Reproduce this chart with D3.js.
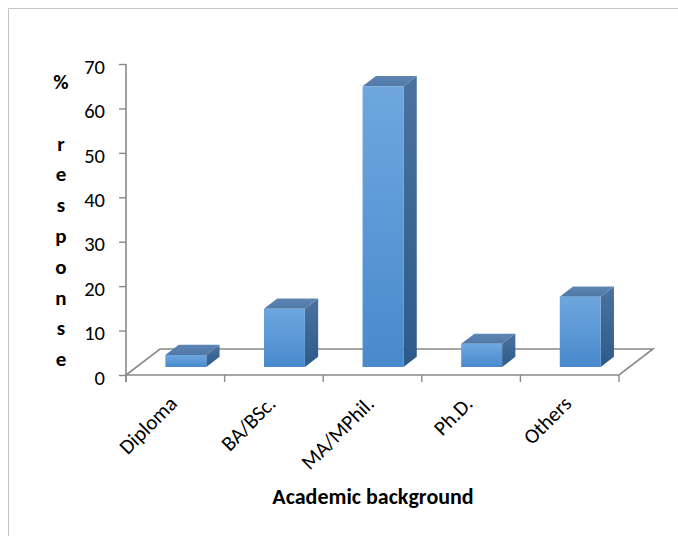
<!DOCTYPE html>
<html>
<head>
<meta charset="utf-8">
<script src="https://cdn.jsdelivr.net/npm/d3@7/dist/d3.min.js"></script>
<style>
  html, body { margin: 0; padding: 0; background: #fff; }
  svg { display: block; }
  text { font-family: Carlito, Calibri, Lato, "Open Sans", sans-serif; fill: #000; }
</style>
</head>
<body>
<svg id="chart" width="678" height="536"></svg>
<script>
// Survey respondents by academic background (% of responses)
const categories = ["Diploma", "BA/BSc.", "MA/MPhil.", "Ph.D.", "Others"];
const values = [2.7, 13.1, 63.2, 5.2, 15.8];
const yTicks = [0, 10, 20, 30, 40, 50, 60, 70];
const xTitle = "Academic background";
const yTitleLines = ["%", "", "r", "e", "s", "p", "o", "n", "s", "e"];

const svg = d3.select("#chart");

// chart-area frame (runs off the right and bottom edges)
svg.append("path")
  .attr("d", "M8.5,536 L8.5,8.5 L678,8.5")
  .attr("fill", "none")
  .attr("stroke", "#c4c4c4")
  .attr("stroke-width", 1);

// front plane scales
const x = d3.scaleBand().domain(categories).range([126, 619]).padding(0);
const xBar = d3.scaleBand().domain(categories).range([126, 619])
  .paddingInner(0.585).paddingOuter(0.2925);
const y = d3.scaleLinear().domain([0, 70]).range([375, 64]);

// oblique depth vector for the floor (full depth)
const depth = d3.scaleLinear().domain([0, 1]).range([0, 1]);
const DX = 34, DY = -26;
const barFront = 0.31, barBack = 0.70;
const P = (px, v, d) => [px + depth(d) * DX, y(v) + depth(d) * DY];

const axisColor = "#898989";

// floor outline
const floor = [P(126, 0, 0), P(619, 0, 0), P(619, 0, 1), P(126, 0, 1)];
svg.append("path")
  .attr("d", d3.line()(floor) + "Z")
  .attr("fill", "none")
  .attr("stroke", axisColor)
  .attr("stroke-width", 1.6);

// value axis
const yAxis = d3.axisLeft(y).tickValues(yTicks).tickSize(7).tickPadding(14)
  .tickFormat(d3.format("d"));
const gy = svg.append("g").attr("transform", "translate(126,0)").call(yAxis);
gy.select(".domain").remove();
gy.selectAll(".tick line").attr("stroke", axisColor).attr("stroke-width", 1.4);
gy.selectAll(".tick text")
  .attr("font-size", 20.5)
  .attr("font-family", "Carlito, Calibri, Lato, sans-serif")
  .attr("dy", "0.45em")
  .attr("fill", "#000");
svg.append("line")
  .attr("x1", 126).attr("x2", 126)
  .attr("y1", y(70)).attr("y2", y(0) + 7)
  .attr("stroke", axisColor).attr("stroke-width", 1.6);

// category ticks along the front edge of the floor
const boundaries = categories.map(c => x(c)).concat([x.range()[1]]);
svg.append("g").selectAll("line").data(boundaries).join("line")
  .attr("x1", d => d).attr("x2", d => d)
  .attr("y1", y(0)).attr("y2", y(0) + 7)
  .attr("stroke", axisColor).attr("stroke-width", 1.4);

// gradients for bar faces
const defs = svg.append("defs");
function vGrad(id, c0, c1) {
  const g = defs.append("linearGradient").attr("id", id)
    .attr("x1", 0).attr("y1", 0).attr("x2", 0).attr("y2", 1);
  g.append("stop").attr("offset", "0%").attr("stop-color", c0);
  g.append("stop").attr("offset", "100%").attr("stop-color", c1);
}
vGrad("gFront", "#6ea7df", "#4889cd");
vGrad("gSide", "#4a72a0", "#2d5b89");
vGrad("gTop", "#5d86b4", "#4f78a6");

// 3-D columns
const bars = svg.append("g").selectAll("g").data(categories).join("g");
bars.each(function (c, i) {
  const g = d3.select(this);
  const v = values[i];
  const x0 = xBar(c), x1 = xBar(c) + xBar.bandwidth();
  const fBL = P(x0, 0, barFront), fBR = P(x1, 0, barFront);
  const fTL = P(x0, v, barFront), fTR = P(x1, v, barFront);
  const bBR = P(x1, 0, barBack), bTR = P(x1, v, barBack), bTL = P(x0, v, barBack);
  // side
  g.append("path").attr("d", d3.line()([fBR, bBR, bTR, fTR]) + "Z")
    .attr("fill", "url(#gSide)");
  // top
  g.append("path").attr("d", d3.line()([fTL, fTR, bTR, bTL]) + "Z")
    .attr("fill", "url(#gTop)");
  // front
  g.append("path").attr("d", d3.line()([fBL, fBR, fTR, fTL]) + "Z")
    .attr("fill", "url(#gFront)");
});

// category labels, rotated
svg.append("g").selectAll("text").data(categories).join("text")
  .attr("transform", c => `translate(${x(c) + x.bandwidth() / 2 + 3},${y(0) + 30}) rotate(-45)`)
  .attr("text-anchor", "end")
  .attr("font-size", 21)
  .text(c => c);

// axis titles
svg.append("text")
  .attr("x", 373).attr("y", 504)
  .attr("text-anchor", "middle")
  .attr("font-size", 22)
  .attr("font-weight", "bold")
  .text(xTitle);

svg.append("g").selectAll("text").data(yTitleLines).join("text")
  .attr("x", 61)
  .attr("y", (d, i) => 89 + i * 30.8)
  .attr("text-anchor", "middle")
  .attr("font-size", 21)
  .attr("font-weight", "bold")
  .text(d => d);
</script>
</body>
</html>
